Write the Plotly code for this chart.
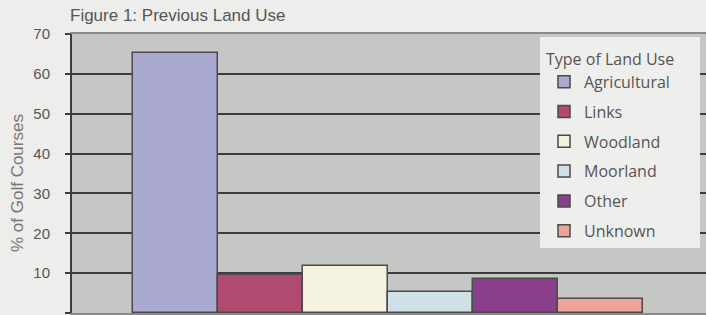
import plotly.graph_objects as go

categories = ["Agricultural", "Links", "Woodland", "Moorland", "Other", "Unknown"]
values = [65.3, 9.6, 11.8, 5.3, 8.5, 3.5]
colors = ["#aaa9d2", "#b04a70", "#f5f2df", "#cfe0e6", "#893f8c", "#eba596"]
y_ticks = [0, 10, 20, 30, 40, 50, 60, 70]
y_title = "% of Golf Courses"

W, H = 706, 315
ML, MT, MB = 72, 34, 2
PW, PH = W - ML, H - MT - MB


def px_x(px):
    return (px - ML) / PW


def px_y(py):
    return (H - MB - py) / PH


fig = go.Figure()
for i, (cat, val, col) in enumerate(zip(categories, values, colors)):
    fig.add_trace(go.Bar(
        x=[i], y=[val], name=cat, width=1, legendgroup=cat,
        marker=dict(color=col, line=dict(color="#4a4a4a", width=1.5)),
    ))

fig.add_shape(type="rect", xref="paper", yref="paper",
              x0=px_x(540), x1=px_x(700), y0=px_y(248), y1=px_y(37),
              fillcolor="#eeeeec", line=dict(width=0), layer="above")

fig.add_annotation(text=y_title, xref="paper", yref="paper",
                   x=px_x(17), y=px_y(183), xanchor="center", yanchor="middle",
                   textangle=-90, showarrow=False,
                   font=dict(size=17, color="#777777"))

fig.update_layout(
    width=W, height=H,
    margin=dict(l=ML, r=0, t=MT, b=MB),
    paper_bgcolor="#ededeb",
    plot_bgcolor="#c6c6c4",
    bargap=0,
    font=dict(family="Liberation Sans, Arial, sans-serif", color="#555555"),
    title=dict(text="Figure 1: Previous Land Use", x=70/W, xanchor="left",
               y=1 - 15/H, yanchor="middle",
               font=dict(size=17, color="#555555")),
    legend=dict(
        title=dict(text="Type of Land Use", font=dict(size=16, color="#555555",
                                                       family="Open Sans, sans-serif")),
        font=dict(size=16, color="#555555", family="Open Sans, sans-serif"),
        x=px_x(544), xanchor="left",
        y=px_y(44), yanchor="top",
        bgcolor="rgba(0,0,0,0)", borderwidth=0,
        tracegroupgap=6,
    ),
    showlegend=True,
)
fig.update_xaxes(range=[-1.22, 6.24], showticklabels=False, showgrid=False,
                 zeroline=False, showline=True, linecolor="#8a8a8a", linewidth=1.5,
                 mirror=True, ticks="", automargin=False)
fig.update_yaxes(range=[0, 70], tickvals=y_ticks, ticks="outside", ticklen=5,
                 tickcolor="#3c3c3c", tickwidth=2, ticklabelstandoff=12,
                 showgrid=True, gridcolor="#3c3c3c", gridwidth=2,
                 showline=True, linecolor="#3c3c3c", linewidth=2,
                 zeroline=False, automargin=False,
                 tickfont=dict(size=15, color="#555555"))

fig.write_html("out.html", config={"displayModeBar": False},
               post_script="document.body.style.margin='0';document.body.style.background='#ededeb';")
